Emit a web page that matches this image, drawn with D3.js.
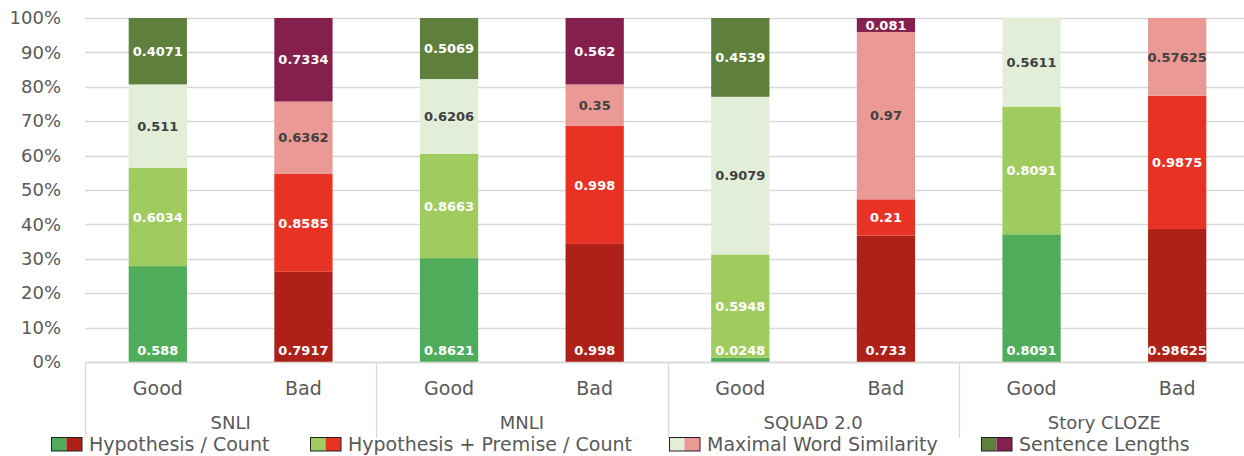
<!DOCTYPE html>
<html>
<head>
<meta charset="utf-8">
<script src="https://cdn.jsdelivr.net/npm/d3@7"></script>
<style>
  body { margin: 0; background: #fff; }
  text { font-family: "DejaVu Sans", Verdana, sans-serif; }
</style>
</head>
<body>
<div id="chart"></div>
<script>
// categories
var datasets = ["SNLI", "MNLI", "SQUAD 2.0", "Story CLOZE"];
var qualities = ["Good", "Bad"];
var seriesNames = ["Hypothesis / Count", "Hypothesis + Premise / Count", "Maximal Word Similarity", "Sentence Lengths"];

// values, in order SNLI Good, SNLI Bad, MNLI Good, MNLI Bad, SQUAD Good, SQUAD Bad, Story Good, Story Bad
var hypCount    = [0.588, 0.7917, 0.8621, 0.998, 0.0248, 0.733, 0.8091, 0.98625];
var hypPremise  = [0.6034, 0.8585, 0.8663, 0.998, 0.5948, 0.21, 0.8091, 0.9875];
var maxWordSim  = [0.511, 0.6362, 0.6206, 0.35, 0.9079, 0.97, 0.5611, 0.57625];
var sentLengths = [0.4071, 0.7334, 0.5069, 0.562, 0.4539, 0.081, 0, 0];

var yTicks = [0, 0.1, 0.2, 0.3, 0.4, 0.5, 0.6, 0.7, 0.8, 0.9, 1];

// colours: [good, bad] per series
var colors = [
    ["#4eac5b", "#ad2118"],
    ["#a0cc5f", "#e83324"],
    ["#e3eed9", "#ea9994"],
    ["#5f7f3c", "#85204e"]
];
var labelColors = ["#ffffff", "#ffffff", "#404040", "#ffffff"];

var w = 1244, h = 456;
var margin = { top: 18, right: -6, bottom: 94, left: 85 };
var plotW = w - margin.left - margin.right;
var plotH = h - margin.top - margin.bottom;

var keys = ["s0", "s1", "s2", "s3"];
var rows = [];
datasets.forEach(function (ds, i) {
    qualities.forEach(function (q, j) {
        var k = i * 2 + j;
        rows.push({ id: ds + "|" + q, ds: ds, q: q, qi: j,
            s0: hypCount[k], s1: hypPremise[k], s2: maxWordSim[k], s3: sentLengths[k] });
    });
});

var stacked = d3.stack().keys(keys).offset(d3.stackOffsetExpand)(rows);

var svg = d3.select("#chart").append("svg")
    .attr("width", w).attr("height", h);
var g = svg.append("g")
    .attr("transform", "translate(" + margin.left + "," + margin.top + ")");

var xScale = d3.scaleBand()
    .domain(rows.map(d => d.id))
    .range([0, plotW])
    .paddingInner(0.6)
    .paddingOuter(0.3);

var groupScale = d3.scaleBand()
    .domain(datasets)
    .range([0, plotW]);

var yScale = d3.scaleLinear().domain([0, 1]).range([plotH, 0]);

// gridlines
g.append("g").selectAll("line")
    .data(yTicks)
    .enter().append("line")
    .attr("x1", 0).attr("x2", plotW)
    .attr("y1", d => Math.round(yScale(d)) + 0.5)
    .attr("y2", d => Math.round(yScale(d)) + 0.5)
    .attr("stroke", "#d9d9d9")
    .attr("stroke-width", 1.3);

// y axis labels
var yAxis = d3.axisLeft(yScale).tickValues(yTicks).tickFormat(d3.format(".0%")).tickSize(0).tickPadding(24);
var yg = g.append("g").call(yAxis);
yg.select(".domain").remove();
yg.selectAll("text").attr("font-size", "18px").attr("fill", "#595959")
    .attr("font-family", "DejaVu Sans");

// bars
var layers = g.selectAll(".layer")
    .data(stacked)
    .enter().append("g").attr("class", "layer");

layers.selectAll("rect")
    .data(d => d.map(p => ({ p: p, si: d.index })))
    .enter().append("rect")
    .attr("x", d => xScale(d.p.data.id))
    .attr("width", xScale.bandwidth())
    .attr("y", d => yScale(d.p[1]))
    .attr("height", d => yScale(d.p[0]) - yScale(d.p[1]))
    .attr("fill", d => colors[d.si][d.p.data.qi]);

// value labels (drawn after all bars so none are covered)
var labelData = [];
stacked.forEach(function (layer) {
    layer.forEach(function (p) {
        if (p.data[keys[layer.index]] > 0) labelData.push({ p: p, si: layer.index });
    });
});

g.append("g").selectAll("text")
    .data(labelData)
    .enter().append("text")
    .attr("x", d => xScale(d.p.data.id) + xScale.bandwidth() / 2)
    .attr("y", function (d) {
        if (d.si === 0) return yScale(0) - 12;
        return (yScale(d.p[0]) + yScale(d.p[1])) / 2;
    })
    .attr("dy", "0.36em")
    .attr("text-anchor", "middle")
    .attr("font-size", "13px")
    .attr("font-weight", "bold")
    .attr("fill", d => labelColors[d.si])
    .text(d => d.p.data[keys[d.si]]);

// category axis line
g.append("line")
    .attr("x1", 0).attr("x2", plotW)
    .attr("y1", plotH + 0.5).attr("y2", plotH + 0.5)
    .attr("stroke", "#d9d9d9").attr("stroke-width", 1.3);

// group separators
g.append("g").selectAll("line")
    .data(datasets.concat(["end"]))
    .enter().append("line")
    .attr("x1", (d, i) => Math.round(i * groupScale.bandwidth()) + 0.5)
    .attr("x2", (d, i) => Math.round(i * groupScale.bandwidth()) + 0.5)
    .attr("y1", plotH).attr("y2", plotH + 76)
    .attr("stroke", "#d9d9d9").attr("stroke-width", 1.3);

// Good / Bad labels
g.append("g").selectAll("text")
    .data(rows)
    .enter().append("text")
    .attr("x", d => xScale(d.id) + xScale.bandwidth() / 2)
    .attr("y", plotH + 33)
    .attr("text-anchor", "middle")
    .attr("font-size", "19px")
    .attr("fill", "#595959")
    .text(d => d.q);

// dataset labels
g.append("g").selectAll("text")
    .data(datasets)
    .enter().append("text")
    .attr("x", d => groupScale(d) + groupScale.bandwidth() / 2)
    .attr("y", plotH + 67)
    .attr("text-anchor", "middle")
    .attr("font-size", "18px")
    .attr("fill", "#595959")
    .text(d => d);

// legend
var legendX = [51, 310, 669, 981];
var legend = svg.append("g").selectAll("g")
    .data(seriesNames)
    .enter().append("g")
    .attr("transform", (d, i) => "translate(" + legendX[i] + ",437)");

legend.append("rect").attr("x", 0).attr("y", 0).attr("width", 15.5).attr("height", 14)
    .attr("fill", (d, i) => colors[i][0]);
legend.append("rect").attr("x", 15.5).attr("y", 0).attr("width", 15.5).attr("height", 14)
    .attr("fill", (d, i) => colors[i][1]);
legend.append("rect").attr("x", 0.5).attr("y", 0.5).attr("width", 30.5).attr("height", 13.5)
    .attr("fill", "none").attr("stroke", "#222").attr("stroke-width", 1);
legend.append("text")
    .attr("x", 38).attr("y", 14)
    .attr("font-size", "19px")
    .attr("fill", "#595959")
    .text(d => d);
</script>
</body>
</html>
